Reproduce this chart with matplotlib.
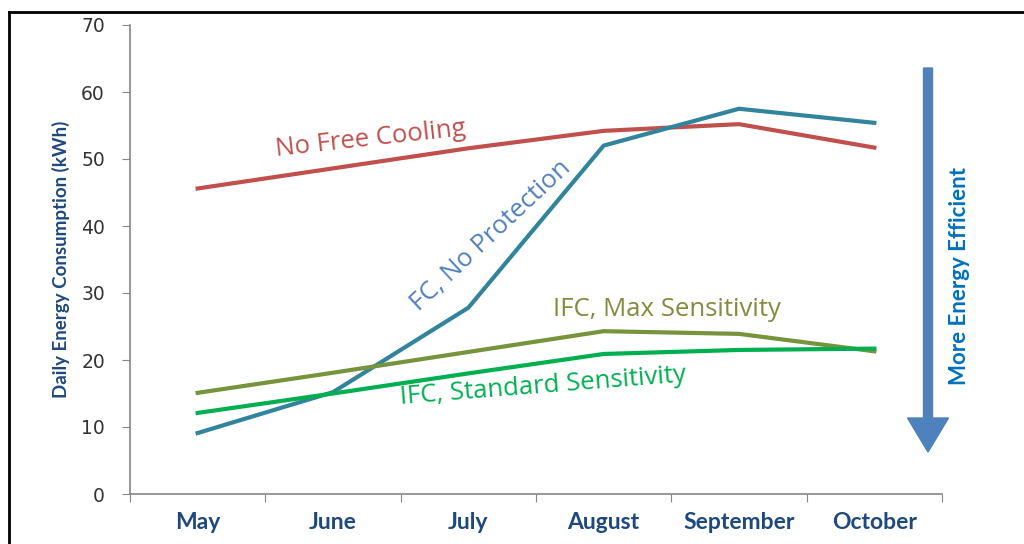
import numpy as np
import matplotlib.pyplot as plt
from matplotlib.lines import Line2D
from matplotlib.patches import FancyArrow

months = ["May", "June", "July", "August", "September", "October"]
no_free_cooling = [45.6, 48.6, 51.6, 54.2, 55.2, 51.7]
fc_no_protection = [9.1, 15.2, 27.8, 52.0, 57.5, 55.4]
ifc_max = [15.1, 18.1, 21.2, 24.3, 23.9, 21.3]
ifc_standard = [12.1, 15.0, 18.0, 20.9, 21.5, 21.7]

fig = plt.figure(figsize=(10.24, 5.44), dpi=100)
ax = fig.add_axes([130/1024, 1-494/544, 812/1024, 469/544])

x = np.arange(len(months))
ax.plot(x, no_free_cooling, color="#C0504D", lw=3)
ax.plot(x, fc_no_protection, color="#31849B", lw=3)
ax.plot(x, ifc_max, color="#77933C", lw=3)
ax.plot(x, ifc_standard, color="#00B050", lw=3)

ax.set_xlim(-0.5, len(months) - 0.5)
ax.set_ylim(0, 70)
ax.set_yticks(np.arange(0, 71, 10))
ax.set_xticks(np.arange(-0.5, len(months), 1))
ax.set_xticklabels([])
ax.set_xticks(x, minor=True)
ax.set_xticklabels(months, minor=True, fontsize=16.5, fontweight="bold",
                   color="#1F497D", family="Lato")
ax.tick_params(axis="x", which="minor", length=0, pad=13)
ax.tick_params(axis="x", which="major", length=6, color="#868686", direction="out")
ax.tick_params(axis="y", length=6, color="#868686", labelsize=13.5, pad=12,
               labelcolor="#333333")
for s in ["top", "right"]:
    ax.spines[s].set_visible(False)
for s in ["left", "bottom"]:
    ax.spines[s].set_color("#868686")
    ax.spines[s].set_linewidth(1.2)

ax.set_ylabel("Daily Energy Consumption (kWh)", fontsize=13.5, fontweight="bold",
              color="#1F497D", family="Lato", labelpad=8)

# series labels
lab = dict(fontsize=18.5, family="Open Sans", ha="center", va="center")
ax.text(1.28, 52.9, "No Free Cooling", color="#C0504D", rotation=6.3, **lab)
ax.text(2.17, 38.6, "FC, No Protection", color="#4F81BD", rotation=43, **lab)
ax.text(3.47, 27.6, "IFC, Max Sensitivity", color="#868A3C", **lab)
ax.text(2.55, 16.1, "IFC, Standard Sensitivity", color="#00B050", rotation=4.5, **lab)

# efficiency arrow
fig.patches.append(FancyArrow(
    928/1024, 1-68/544, 0, -(384/544), width=9/1024, head_width=41/1024,
    head_length=34/544, length_includes_head=True, color="#4F81BD",
    transform=fig.transFigure, figure=fig))
fig.text(960/1024, 1-276/544, "More Energy Efficient", rotation=90,
         color="#0070C0", fontsize=16, fontweight="bold", family="Lato",
         ha="center", va="center")

# frame lines of the original picture
fig.add_artist(Line2D([9/1024, 9/1024], [0, 1-12/544], color="black", lw=2,
                      transform=fig.transFigure))
fig.add_artist(Line2D([9/1024, 1], [1-12/544, 1-12/544], color="black", lw=2,
                      transform=fig.transFigure))

fig.savefig("out.png", dpi=100)
